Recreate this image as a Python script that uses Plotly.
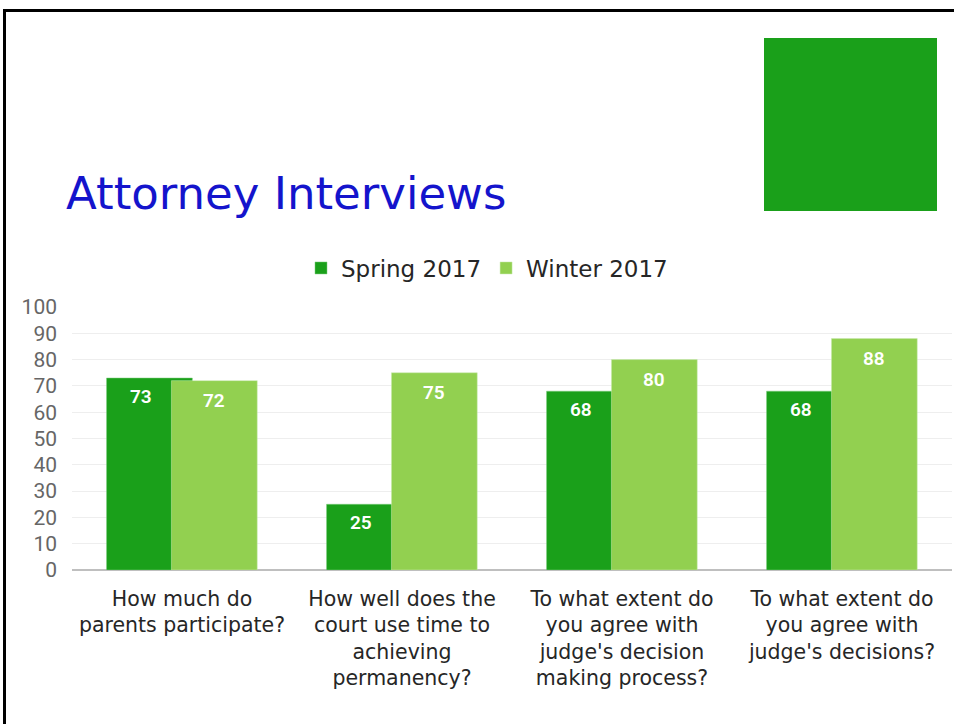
import plotly.graph_objects as go

categories = [
    'How much do<br>parents participate?',
    'How well does the<br>court use time to<br>achieving<br>permanency?',
    'To what extent do<br>you agree with<br>judge\'s decision<br>making process?',
    'To what extent do<br>you agree with<br>judge\'s decisions?',
]
spring_2017 = [73, 25, 68, 68]
winter_2017 = [72, 75, 80, 88]
y_ticks = [0, 10, 20, 30, 40, 50, 60, 70, 80, 90, 100]

W, H = 954, 724
L, R, T, B = 72, 952, 307, 570  # plot area in pixels


def xp(px):
    return (px - L) / (R - L)


def yp(py):
    return (B - py) / (B - T)


dark_green = '#1aa01a'
light_green = '#92d050'
bar_w = 0.39
off_spring = -0.343
off_winter = -0.048

fig = go.Figure()
fig.add_trace(go.Bar(
    x=categories, y=spring_2017, name='Spring 2017',
    marker=dict(color=dark_green, line=dict(color='#7fcf7f', width=0.5)),
    width=bar_w, offset=off_spring,
))
fig.add_trace(go.Bar(
    x=categories, y=winter_2017, name='Winter 2017',
    marker=dict(color=light_green, line=dict(color='#c8eab0', width=0.5)),
    width=bar_w, offset=off_winter,
))

# data labels centred on the visible part of each bar
annotations = []
vis_mid = (off_winter - off_spring) / 2
lbl_font = dict(family='Roboto', size=19, color='white', weight=600)
for i, (s, w) in enumerate(zip(spring_2017, winter_2017)):
    annotations.append(dict(x=i + off_spring + vis_mid, y=s, xref='x', yref='y',
                            text=str(s), showarrow=False, yanchor='top', yshift=-5,
                            xshift=2, font=lbl_font))
    annotations.append(dict(x=i + off_winter + bar_w / 2, y=w, xref='x', yref='y',
                            text=str(w), showarrow=False, yanchor='top', yshift=-6,
                            font=lbl_font))

annotations.append(dict(x=xp(64), y=yp(193), xref='paper', yref='paper',
                        text='Attorney Interviews', showarrow=False,
                        xanchor='left', yanchor='middle',
                        font=dict(family='DejaVu Sans', size=45, color='#1414cc')))

shapes = [
    dict(type='line', xref='paper', yref='paper', x0=xp(3), x1=xp(956), y0=yp(10.5), y1=yp(10.5),
         line=dict(color='black', width=3)),
    dict(type='line', xref='paper', yref='paper', x0=xp(4.5), x1=xp(4.5), y0=yp(9), y1=yp(730),
         line=dict(color='black', width=3)),
    dict(type='rect', xref='paper', yref='paper', x0=xp(764), x1=xp(937), y0=yp(38), y1=yp(211),
         fillcolor=dark_green, line=dict(width=0)),
]

fig.update_layout(
    width=W, height=H,
    margin=dict(l=L, r=W - R, t=T, b=H - B),
    barmode='overlay',
    plot_bgcolor='white', paper_bgcolor='white',
    showlegend=True,
    legend=dict(orientation='h', x=xp(487), xanchor='center', y=yp(268), yanchor='middle',
                font=dict(family='DejaVu Sans', size=23, color='#262626'),
                itemwidth=30, bgcolor='rgba(0,0,0,0)'),
    xaxis=dict(showgrid=False, showline=False, ticks='', ticklabelstandoff=14,
               tickfont=dict(family='DejaVu Sans', size=20.5, color='#262626')),
    yaxis=dict(range=[0, 100], tickvals=y_ticks, showgrid=True, gridcolor='#eeeeee', gridwidth=1,
               zeroline=True, zerolinecolor='#bfbfbf', zerolinewidth=2,
               ticks='', ticklabelstandoff=14,
               tickfont=dict(family='Roboto', size=21, color='#666666')),
    annotations=annotations,
    shapes=shapes,
)

fig.write_html('out.html', config={'displayModeBar': False},
               post_script="document.body.style.margin='0px';")
